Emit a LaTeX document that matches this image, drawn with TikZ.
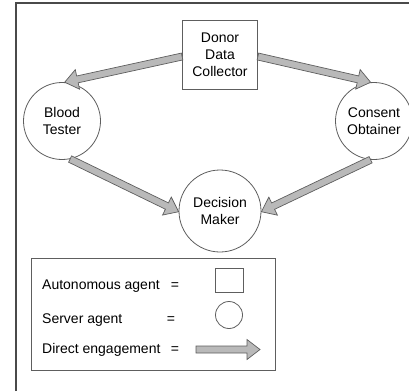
\documentclass[tikz,border=0pt]{standalone}
\usepackage{fontspec}
\setmainfont{Liberation Sans}
\usepackage{xcolor}
\usetikzlibrary{shapes,arrows,positioning,calc}

\definecolor{framegray}{HTML}{4A4A4A}
\definecolor{linegray}{HTML}{5E5E5E}
\definecolor{shaftgray}{HTML}{B9B9B9}

% fat block arrow between two named coordinates
\newcommand{\engage}[2]{%
  \coordinate (#1-#2) at ($(#2)!13pt!(#1)$);
  \draw[engagement] ($(#1)!3.5pt!90:(#2)$) -- ($(#1-#2)!3.5pt!90:(#2)$) -- ($(#1-#2)!10pt!90:(#2)$) -- (#2)
    -- ($(#1-#2)!10pt!-90:(#2)$) -- ($(#1-#2)!3.5pt!-90:(#2)$) -- ($(#1)!3.5pt!-90:(#2)$) -- cycle;
}

\begin{document}
\begin{tikzpicture}[x=1pt, y=-1pt,
    agent/.style={draw=linegray, line width=0.8pt, align=center, font=\fontsize{14}{17}\selectfont},
    server/.style={agent, circle, inner sep=0pt},
    legendtext/.style={font=\fontsize{14}{17}\selectfont, inner sep=0pt},
    engagement/.style={draw=linegray, line width=0.7pt, fill=shaftgray, line join=miter}]
    \useasboundingbox (0,0) rectangle (409,391);
    \draw [framegray, line width=1.4pt] (16,391) -- (16,3) -- (409,3);

    \node (collector) [agent, rectangle, minimum width=75pt, minimum height=69pt] at (220,54.5) {Donor\\Data\\Collector};
    \node (tester) [server, minimum size=77pt] at (62,121) {Blood\\Tester};
    \node (obtainer) [server, minimum size=77pt] at (374,121) {Consent\\Obtainer};
    \node (maker) [server, minimum size=82pt] at (220,211) {Decision\\Maker};

    \coordinate (collector-w) at ([yshift=-2pt]collector.west);
    \coordinate (collector-e) at ([yshift=-2pt]collector.east);
    \coordinate (tester-n) at (tester.86);
    \coordinate (tester-s) at (tester.-78);
    \coordinate (obtainer-n) at (obtainer.95);
    \coordinate (obtainer-s) at (obtainer.-95);
    \coordinate (maker-w) at (maker.181);
    \coordinate (maker-e) at (maker.-1);

    \engage{collector-w}{tester-n}
    \engage{collector-e}{obtainer-n}
    \engage{tester-s}{maker-w}
    \engage{obtainer-s}{maker-e}

    % legend
    \node (legend) [draw=linegray, line width=0.8pt, minimum width=244pt, minimum height=112pt] at (153,314) {};
    \node (autlabel) [legendtext, anchor=base west] at (42,289) {Autonomous agent};
    \node (autequal) [legendtext, anchor=base] at (175,289) {=};
    \node (autkey) [draw=linegray, line width=0.8pt, minimum width=28pt, minimum height=24pt] at (229,280) {};
    \node (srvlabel) [legendtext, anchor=base west] at (42,323) {Server agent};
    \node (srvequal) [legendtext, anchor=base] at (171,323) {=};
    \node (srvkey) [draw=linegray, line width=0.8pt, circle, minimum size=27pt, inner sep=0pt] at (229,315) {};
    \node (englabel) [legendtext, anchor=base west] at (42,353) {Direct engagement};
    \node (engequal) [legendtext, anchor=base] at (175,353) {=};
    \coordinate (keytail) at (196,349.5);
    \coordinate (keytip) at (260,349.5);
    \engage{keytail}{keytip}
\end{tikzpicture}
\end{document}
